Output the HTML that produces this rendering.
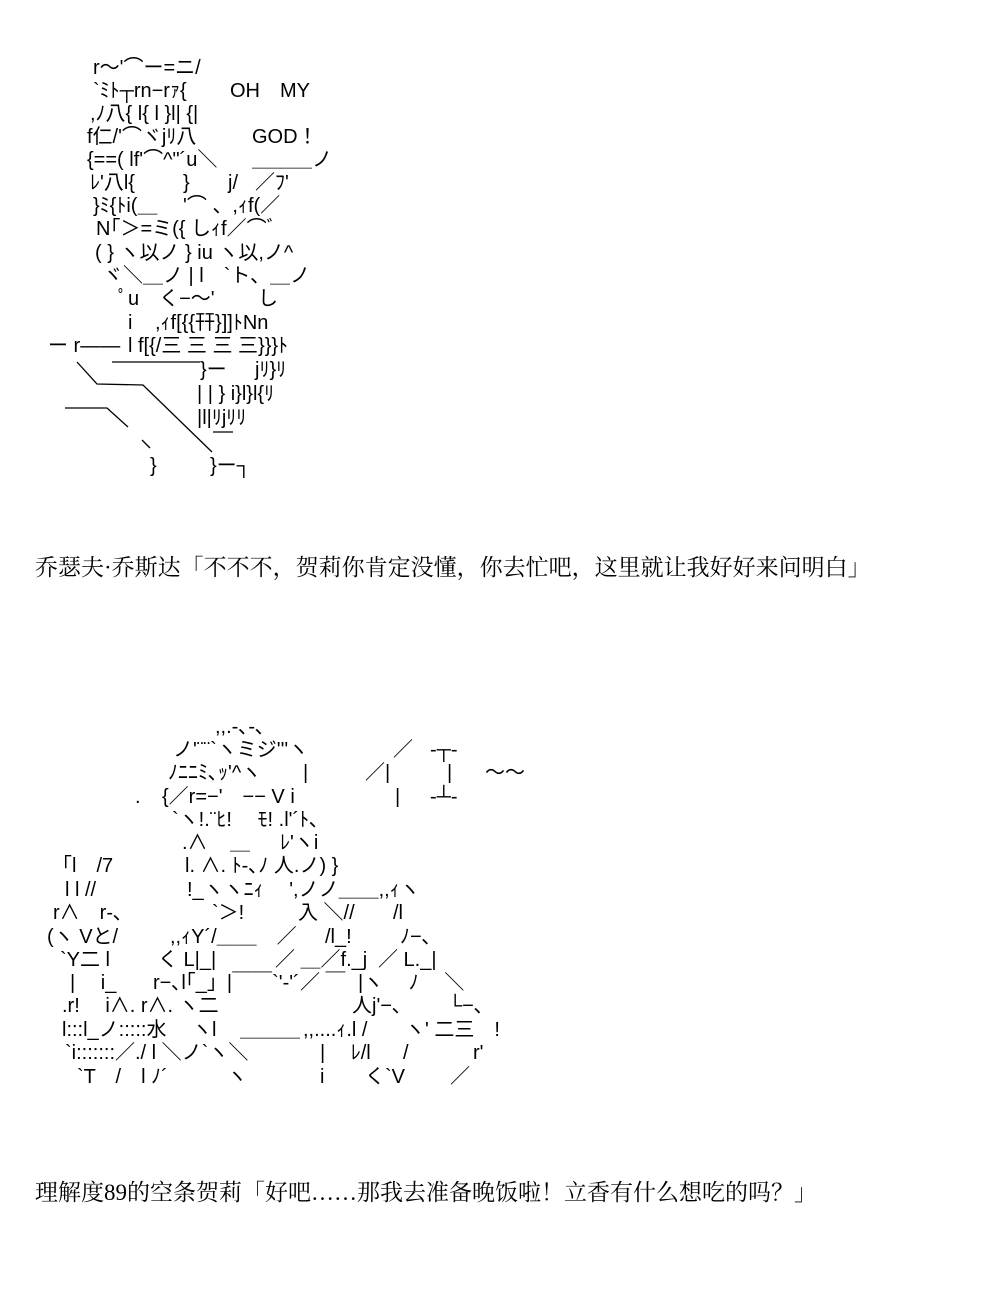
<!DOCTYPE html>
<html><head><meta charset="utf-8">
<style>
html,body{margin:0;padding:0;background:#fff;}
body{width:984px;height:1300px;position:relative;overflow:hidden;}
.t{position:absolute;white-space:pre;font-family:"Liberation Sans","Noto Sans CJK JP",sans-serif;font-size:20px;line-height:20px;color:#000;}
.c{position:absolute;white-space:pre;font-family:"Liberation Serif","Noto Serif CJK SC",serif;font-size:23px;line-height:26px;color:#000;}
svg{position:absolute;left:0;top:0;}
</style></head><body>
<svg width="984" height="1300" stroke="#000" stroke-width="1.3" fill="none">
<path d="M77 362 L97 384 L143 385 L212 452"/>
<path d="M112 362 L200 362"/>
<path d="M65 408 L107 408 L128 427"/>
<path d="M142 440 L150 448"/>
<path d="M213 432 L233 432"/>
</svg>
<!-- Art 1 -->
<div class="t" style="left:93px;top:58px">r～'⌒ー=ニ/</div>
<div class="t" style="left:93px;top:81px">`ﾐﾄ┬rn−rｧ{</div>
<div class="t" style="left:230px;top:81px">OH　MY</div>
<div class="t" style="left:90px;top:104px">,ﾉ八{ l{ l }l| {|</div>
<div class="t" style="left:87px;top:127px">f仁/'⌒ヾjﾘ八</div>
<div class="t" style="left:252px;top:127px">GOD！</div>
<div class="t" style="left:87px;top:150px">{==( lf'⌒^"´u＼</div>
<div class="t" style="left:252px;top:150px">＿＿＿ノ</div>
<div class="t" style="left:90px;top:173px">ﾚ'八l{</div>
<div class="t" style="left:183px;top:173px">}</div>
<div class="t" style="left:228px;top:173px">j/</div>
<div class="t" style="left:255px;top:173px">／ﾌ'</div>
<div class="t" style="left:93px;top:196px">}ﾐ{ﾄi(＿　 '⌒ 、,ｨf(／</div>
<div class="t" style="left:96px;top:219px">N｢＞=ミ({ しｨf／⌒ﾞ</div>
<div class="t" style="left:95px;top:243px">( } ヽ以ノ } iu ヽ以,ノ^</div>
<div class="t" style="left:103px;top:266px">ヾ＼＿ノ | l　`ト、＿ノ</div>
<div class="t" style="left:118px;top:289px">ﾟu　く−～'</div>
<div class="t" style="left:258px;top:289px">し</div>
<div class="t" style="left:128px;top:313px">i</div>
<div class="t" style="left:155px;top:313px">,ｨf[{{幵}]]ﾄNn</div>
<div class="t" style="left:48px;top:336px">ー r――</div>
<div class="t" style="left:128px;top:336px">l f[{/三 三 三 三}}}ﾄ</div>
<div class="t" style="left:200px;top:360px">}ー</div>
<div class="t" style="left:255px;top:360px">jﾘ}ﾘ</div>
<div class="t" style="left:197px;top:384px">| | } i}l}l{ﾘ</div>
<div class="t" style="left:197px;top:408px">|l|ﾘjﾘﾘ</div>
<div class="t" style="left:150px;top:456px">}</div>
<div class="t" style="left:210px;top:456px">}ー┐</div>

<div class="c" style="left:35px;top:555px">乔瑟夫·乔斯达「不不不，贺莉你肯定没懂，你去忙吧，这里就让我好好来问明白」</div>

<!-- Art 2 -->
<div class="t" style="left:215px;top:717px">,,.-､-､</div>
<div class="t" style="left:173px;top:740px">ノ'¨¨`ヽミジ'''ヽ</div>
<div class="t" style="left:393px;top:740px">／</div>
<div class="t" style="left:430px;top:740px">-┬-</div>
<div class="t" style="left:168px;top:763px">ﾉﾆﾆﾐ､ｯ'^ヽ</div>
<div class="t" style="left:303px;top:763px">|</div>
<div class="t" style="left:365px;top:763px">／|</div>
<div class="t" style="left:447px;top:763px">|</div>
<div class="t" style="left:485px;top:763px">～～</div>
<div class="t" style="left:135px;top:787px">.</div>
<div class="t" style="left:162px;top:787px">{／r=−'　−− V i</div>
<div class="t" style="left:395px;top:787px">|</div>
<div class="t" style="left:430px;top:787px">-┴-</div>
<div class="t" style="left:172px;top:810px">`ヽ!.¨ﾋ!　 ﾓ! .l'´ﾄ､</div>
<div class="t" style="left:182px;top:833px">.∧</div>
<div class="t" style="left:230px;top:833px">＿</div>
<div class="t" style="left:280px;top:833px">ﾚ'ヽi</div>
<div class="t" style="left:62px;top:856px">｢l　/7</div>
<div class="t" style="left:185px;top:856px">l. ∧. ﾄ-､ﾉ 人.ノ) }</div>
<div class="t" style="left:65px;top:880px">l l //</div>
<div class="t" style="left:187px;top:880px">!_ヽヽﾆｨ　 ',ノノ＿＿,,ｨヽ</div>
<div class="t" style="left:53px;top:903px">r∧　r-､</div>
<div class="t" style="left:212px;top:903px">`＞!</div>
<div class="t" style="left:298px;top:903px">入 ＼//</div>
<div class="t" style="left:393px;top:903px">/l</div>
<div class="t" style="left:47px;top:927px">(ヽ Vと/</div>
<div class="t" style="left:170px;top:927px">,,ｨY´/＿＿　／</div>
<div class="t" style="left:325px;top:927px">/l_!</div>
<div class="t" style="left:400px;top:927px">ﾉ−､</div>
<div class="t" style="left:60px;top:950px">`Y二 l</div>
<div class="t" style="left:158px;top:950px">く L|_|</div>
<div class="t" style="left:275px;top:950px">／ ＿／f._j</div>
<div class="t" style="left:378px;top:950px">／ L._|</div>
<div class="t" style="left:70px;top:973px">|　 i_</div>
<div class="t" style="left:153px;top:973px">r−､l｢_」|￣￣`'‐'´</div>
<div class="t" style="left:300px;top:973px">／ ￣</div>
<div class="t" style="left:358px;top:973px">|ヽ　 ﾉ　 ＼</div>
<div class="t" style="left:62px;top:996px">.r!　 i∧. r∧. ヽ二</div>
<div class="t" style="left:352px;top:996px">人j'−､</div>
<div class="t" style="left:448px;top:996px">└−､</div>
<div class="t" style="left:62px;top:1020px">l:::l_ノ:::::水　 ヽl</div>
<div class="t" style="left:240px;top:1020px">＿＿＿</div>
<div class="t" style="left:303px;top:1020px">,,....ｨ.l /</div>
<div class="t" style="left:405px;top:1020px">ヽ' 二三　!</div>
<div class="t" style="left:65px;top:1043px">`i:::::::／./ l ＼ノ`ヽ＼</div>
<div class="t" style="left:320px;top:1043px">|　 ﾚ/l</div>
<div class="t" style="left:403px;top:1043px">/</div>
<div class="t" style="left:473px;top:1043px">r'</div>
<div class="t" style="left:77px;top:1067px">`T　/　l ﾉ´</div>
<div class="t" style="left:227px;top:1067px">ヽ</div>
<div class="t" style="left:320px;top:1067px">i</div>
<div class="t" style="left:365px;top:1067px">く`V</div>
<div class="t" style="left:450px;top:1067px">／</div>

<div class="c" style="left:35px;top:1180px">理解度89的空条贺莉「好吧……那我去准备晚饭啦！立香有什么想吃的吗？」</div>
</body></html>
